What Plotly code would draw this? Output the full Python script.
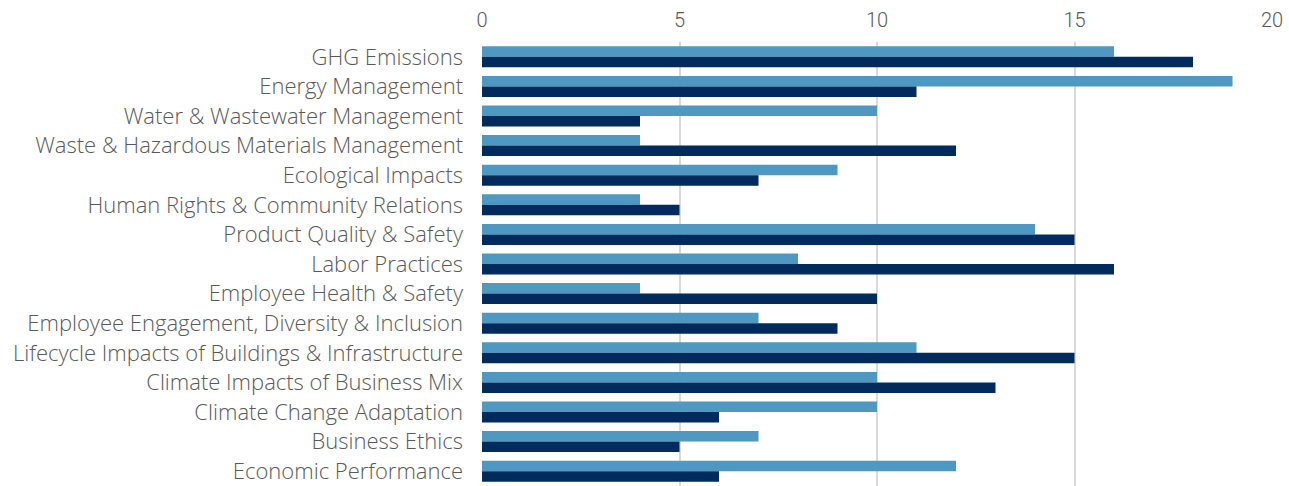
import plotly.graph_objects as go

categories = [
    "GHG Emissions", "Energy Management", "Water & Wastewater Management",
    "Waste & Hazardous Materials Management", "Ecological Impacts",
    "Human Rights & Community Relations", "Product Quality & Safety",
    "Labor Practices", "Employee Health & Safety",
    "Employee Engagement, Diversity & Inclusion",
    "Lifecycle Impacts of Buildings & Infrastructure",
    "Climate Impacts of Business Mix", "Climate Change Adaptation",
    "Business Ethics", "Economic Performance",
]
series_a = [16, 19, 10, 4, 9, 4, 14, 8, 4, 7, 11, 10, 10, 7, 12]
series_b = [18, 11, 4, 12, 7, 5, 15, 16, 10, 9, 15, 13, 6, 5, 6]
x_ticks = [0, 5, 10, 15, 20]

fig = go.Figure()
fig.add_trace(go.Bar(y=categories, x=series_a, orientation="h",
                     marker=dict(color="#4f98c2", line=dict(width=0))))
fig.add_trace(go.Bar(y=categories, x=series_b, orientation="h",
                     marker=dict(color="#002b5c", line=dict(width=0))))

fig.update_layout(
    width=1289, height=486,
    margin=dict(l=482, r=17, t=42, b=0),
    barmode="group", bargap=0.29, bargroupgap=0,
    showlegend=False,
    plot_bgcolor="white", paper_bgcolor="white",
    font=dict(family="Open Sans", color="#595959", size=19),
)
fig.update_xaxes(side="top", range=[0, 20], tickvals=x_ticks,
                 showgrid=True, gridcolor="#d9d9d9", gridwidth=2,
                 zeroline=False, showline=False, ticks="",
                 ticklabelstandoff=10,
                 tickfont=dict(family="Roboto", size=20, weight=300))
fig.update_yaxes(autorange="reversed", showgrid=False, zeroline=False,
                 showline=False, ticks="", ticklabelstandoff=18,
                 tickfont=dict(family="Open Sans", size=22, weight=300))

fig.write_html("out.html")
